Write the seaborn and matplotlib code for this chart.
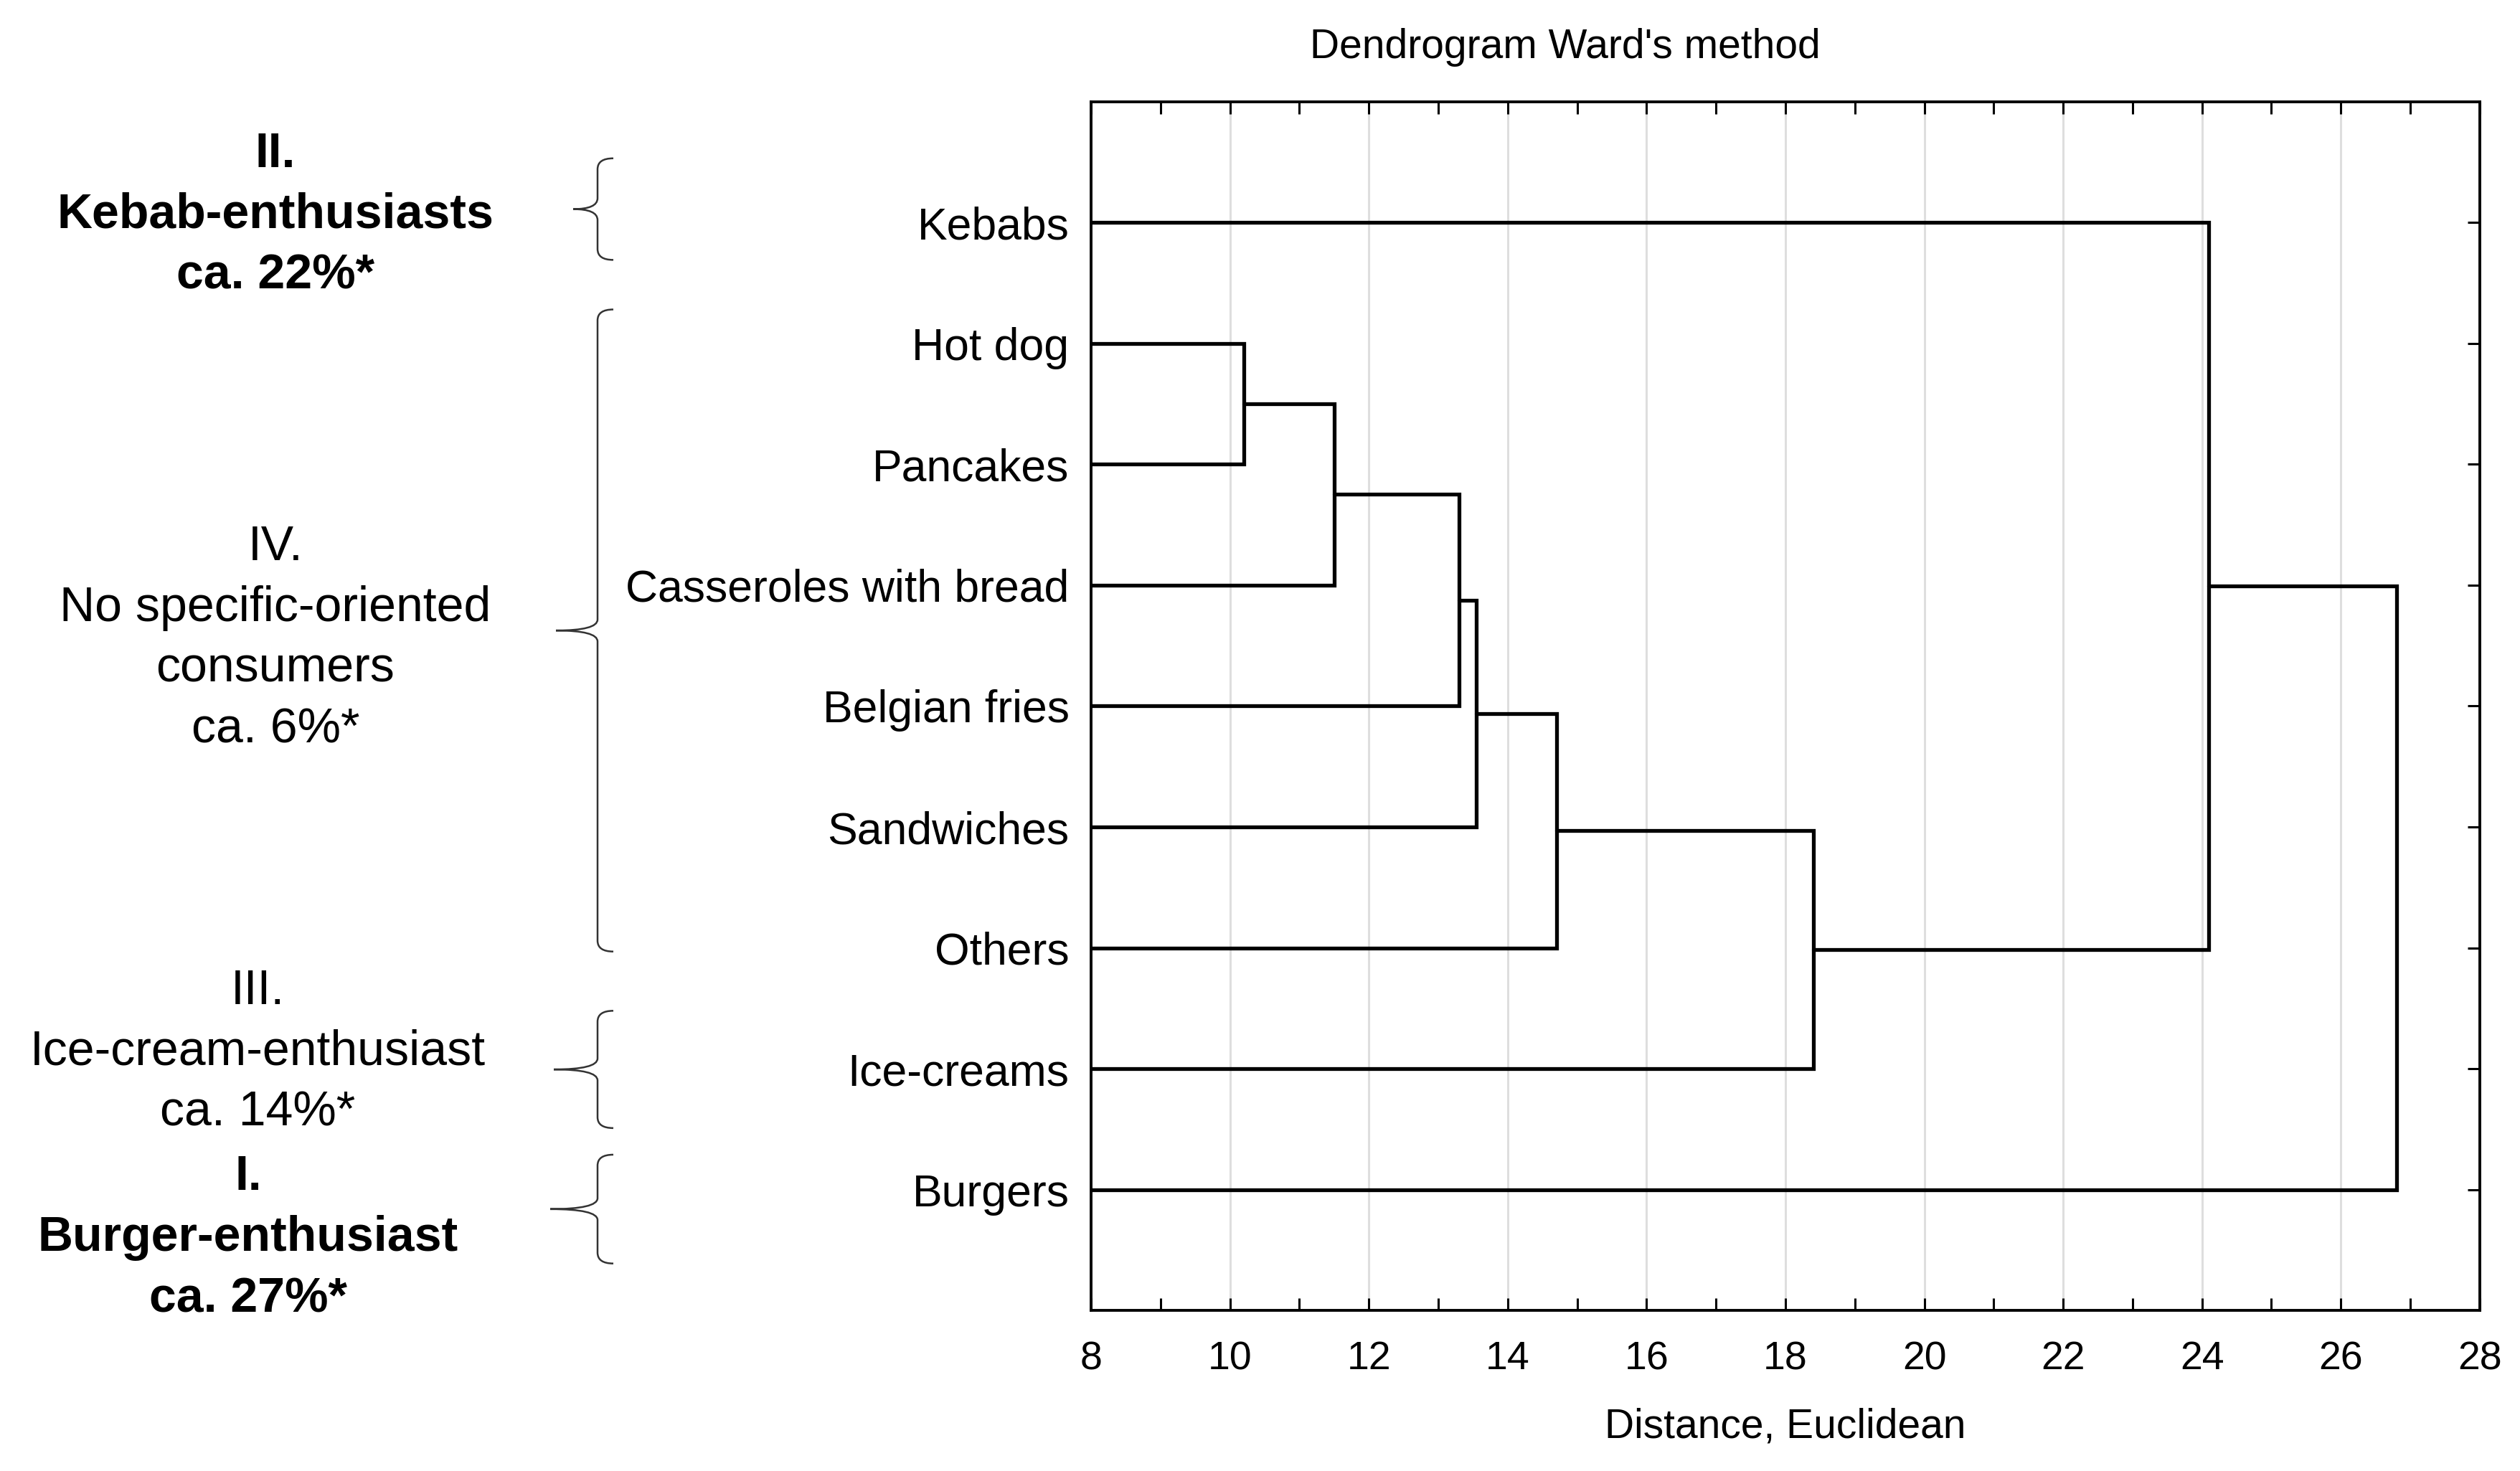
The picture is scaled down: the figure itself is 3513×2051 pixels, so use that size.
import numpy as np
import pandas as pd
import seaborn as sns
import matplotlib.pyplot as plt
import matplotlib.transforms as mtransforms
from matplotlib.path import Path
from matplotlib.patches import PathPatch

# leaves, top to bottom
leaves = ["Kebabs", "Hot dog", "Pancakes", "Casseroles with bread",
          "Belgian fries", "Sandwiches", "Others", "Ice-creams", "Burgers"]

# Ward linkage ("#k" = cluster made by merge k)
merge_a = ["Hot dog", "#0", "#1", "#2", "#3", "#4", "Kebabs", "#6"]
merge_b = ["Pancakes", "Casseroles with bread", "Belgian fries",
           "Sandwiches", "Others", "Ice-creams", "#5", "Burgers"]
merge_dist = [10.2, 11.5, 13.3, 13.55, 14.7, 18.4, 24.1, 26.8]

# consumer groups on the left
group_labels = ["II.\nKebab-enthusiasts\nca. 22%*",
                "IV.\nNo specific-oriented\nconsumers\nca. 6%*",
                "III.\nIce-cream-enthusiast\nca. 14%*",
                "I.\nBurger-enthusiast\nca. 27%*"]
group_bold = [True, False, False, True]
group_top = [0.47, 1.72, 7.52, 8.71]
group_bottom = [1.31, 7.03, 8.49, 9.61]
group_text_y = [0.94, 4.44, 7.86, 9.40]

sns.set_theme(style="white")
plt.rcParams['font.family'] = ['Liberation Sans', 'DejaVu Sans']
plt.rcParams['text.color'] = 'black'
plt.rcParams['axes.labelcolor'] = 'black'
plt.rcParams['xtick.color'] = 'black'
plt.rcParams['ytick.color'] = 'black'

fig = plt.figure(figsize=(35.13, 20.51), dpi=100)
ax = fig.add_axes([0.433, 0.109, 0.551, 0.822])

x0 = 8
node_x = {name: x0 for name in leaves}
node_y = {name: i + 1 for i, name in enumerate(leaves)}
for k, (a, b, h) in enumerate(zip(merge_a, merge_b, merge_dist)):
    xa, ya = node_x[a], node_y[a]
    xb, yb = node_x[b], node_y[b]
    ax.plot([xa, h, h, xb], [ya, ya, yb, yb], color="black", lw=3.8,
            solid_joinstyle="miter", zorder=3)
    node_x["#%d" % k] = h
    node_y["#%d" % k] = (ya + yb) / 2

ax.set_xlim(8, 28)
ax.set_ylim(10, 0)
ax.set_xticks(range(8, 29, 2))
ax.set_xticks(range(9, 28, 2), minor=True)
ax.set_yticks(range(1, len(leaves) + 1))
ax.set_yticklabels(leaves)
ax.grid(axis="x", which="major", color="#dedede", lw=2.2)
ax.set_axisbelow(True)
for s in ax.spines.values():
    s.set_color("black")
    s.set_linewidth(2.8)
ax.tick_params(axis="x", which="both", direction="in", top=True, bottom=True,
               length=12, width=2.2, labelsize=40, pad=30)
ax.tick_params(axis="y", direction="in", left=True, right=True,
               length=12, width=2.2, labelsize=45, pad=22)
ax.set_xlabel("Distance, Euclidean", fontsize=41, labelpad=30)
fig.text(0.621, 0.968, "Dendrogram Ward's method", fontsize=41,
         ha="center", va="center")

# braces and group texts: x in figure fraction, y in data units
trans = mtransforms.blended_transform_factory(fig.transFigure, ax.transData)
W = 3513.0
arm_x, end_x = 833 / W, 855 / W
tip_x = [799 / W, 775 / W, 772 / W, 767 / W]
text_x = [384 / W, 384 / W, 359 / W, 346 / W]


def brace(top, bottom, tipx):
    mid = (top + bottom) / 2
    c = 0.09
    verts = [(end_x, top), (arm_x, top), (arm_x, top + c),
             (arm_x, mid - c),
             (arm_x, mid), (tipx, mid), (tipx, mid),
             (tipx, mid), (arm_x, mid), (arm_x, mid + c),
             (arm_x, bottom - c),
             (arm_x, bottom), (end_x, bottom)]
    codes = [Path.MOVETO, Path.CURVE3, Path.CURVE3, Path.LINETO,
             Path.CURVE3, Path.CURVE3, Path.LINETO,
             Path.MOVETO, Path.CURVE3, Path.CURVE3, Path.LINETO,
             Path.CURVE3, Path.CURVE3]
    return Path(verts, codes)


for i, lab in enumerate(group_labels):
    p = brace(group_top[i], group_bottom[i], tip_x[i])
    ax.add_patch(PathPatch(p, transform=trans, fill=False, edgecolor="#333333",
                           lw=1.8, clip_on=False))
    ax.text(text_x[i], group_text_y[i], lab, transform=trans, fontsize=49,
            ha="center", va="center", multialignment="center",
            fontweight="bold" if group_bold[i] else "normal",
            linespacing=1.42, clip_on=False)

fig.savefig("out.png", dpi=100, facecolor="white")
